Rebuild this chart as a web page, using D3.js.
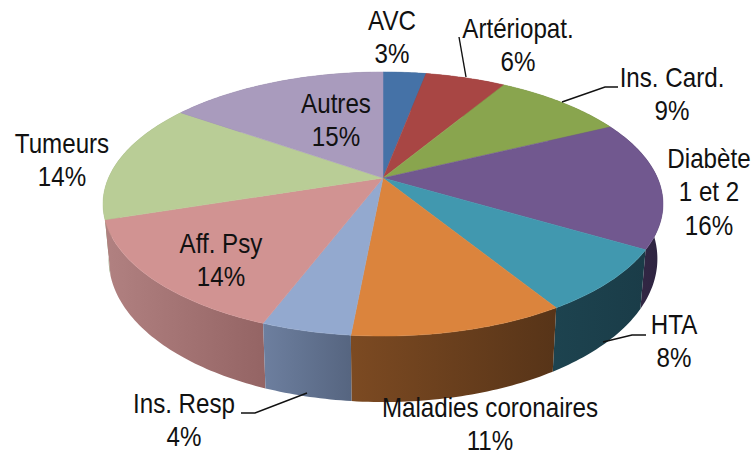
<!DOCTYPE html>
<html>
<head>
<meta charset="utf-8">
<script src="https://cdn.jsdelivr.net/npm/d3@7"></script>
<style>
  html, body { margin: 0; padding: 0; background: #fff; }
  svg { display: block; }
  text { font-family: "Liberation Sans", Arial, sans-serif; font-size: 27px; fill: #111; text-anchor: middle; }
</style>
</head>
<body>
<svg width="753" height="452"></svg>
<script>
var categories = ['AVC', 'Artériopat.', 'Ins. Card.', 'Diabète', 'HTA', 'Maladies coronaires', 'Ins. Resp', 'Aff. Psy', 'Tumeurs', 'Autres'];
var sliceValues = [3, 5.6, 9.2, 15.7, 7.7, 10.3, 4.3, 14.2, 14.7, 15.3];
var shownPercent = ['3%', '6%', '9%', '16%', '8%', '11%', '4%', '14%', '14%', '15%'];
var topColors = ['#4572a7', '#a84644', '#89a54e', '#71588f', '#4198af', '#db843d', '#93a9cf', '#d19392', '#b9cd96', '#a99bbd'];
var wallLight = ['#30507a', '#7a3231', '#647838', '#3a2d4a', '#1d434f', '#7c4a22', '#6d7f9f', '#b18181', '#8f9f74', '#7c7190'];
var wallDark = ['#2a4569', '#6b2b2a', '#566830', '#2d2340', '#1a3c48', '#573418', '#566580', '#946464', '#8a9a70', '#6f6580'];

// label lines and where they sit, same order as categories
var labelLines = [['AVC'], ['Artériopat.'], ['Ins. Card.'], ['Diabète', '1 et 2'], ['HTA'], ['Maladies coronaires'], ['Ins. Resp'], ['Aff. Psy'], ['Tumeurs'], ['Autres']];
var labelX = [392, 518, 672, 709, 674, 490, 184, 221, 62, 336];
var labelY = [30, 38, 87, 168, 334, 416.5, 413, 253, 153, 113];
var lineStep = 33.5;

var leaders = [
  [[459, 37], [466, 77]],
  [[618, 87], [605, 87], [562, 102]],
  [[646, 335], [632, 335], [603, 342]],
  [[241, 413], [255, 413], [307, 393]]
];

var svg = d3.select('svg');
var defs = svg.append('defs');

// disc seen in perspective: centre of the pie is not the centre of the ellipse
var cx = 383, cy = 178, bx = 274.5, by = 126.9, persp = 0.197;
var depthBase = 52, depthFront = 14, bottomShrink = 0.98;

function topPoint(a) {
  var u = Math.sin(a), v = -Math.cos(a), w = 1 - persp * v;
  return [cx + bx * u / w, cy + by * v / w];
}
function bottomPoint(a) {
  var p = topPoint(a), v = -Math.cos(a);
  return [cx + (p[0] - cx) * bottomShrink, p[1] + depthBase + depthFront * v];
}
function arcAngles(d) {
  var n = Math.max(4, Math.ceil((d.endAngle - d.startAngle) * 60));
  return d3.range(n + 1).map(i => d.startAngle + (d.endAngle - d.startAngle) * i / n);
}

var pie = d3.pie().sort(null).startAngle(0).endAngle(2 * Math.PI);
var slices = pie(sliceValues);
var line = d3.line();

slices.forEach((d, i) => {
  var grad = defs.append('linearGradient').attr('id', 'wall' + i);
  grad.append('stop').attr('offset', 0).attr('stop-color', wallLight[i]);
  grad.append('stop').attr('offset', 1).attr('stop-color', wallDark[i]);
});

// walls, back ones first
var wallOrder = slices.map((d, i) => i)
  .sort((a, b) => -Math.cos((slices[a].startAngle + slices[a].endAngle) / 2) + Math.cos((slices[b].startAngle + slices[b].endAngle) / 2));

svg.append('g').selectAll('path')
  .data(wallOrder)
  .enter().append('path')
    .attr('d', i => {
      var angles = arcAngles(slices[i]);
      return line(angles.map(topPoint).concat(angles.slice().reverse().map(bottomPoint))) + 'Z';
    })
    .attr('fill', i => 'url(#wall' + i + ')');

// top face
svg.append('g').selectAll('path')
  .data(slices)
  .enter().append('path')
    .attr('d', d => line([[cx, cy]].concat(arcAngles(d).map(topPoint))) + 'Z')
    .attr('fill', (d, i) => topColors[i])
    .attr('stroke', (d, i) => topColors[i])
    .attr('stroke-width', 0.5);

// leader lines
svg.append('g').selectAll('path')
  .data(leaders)
  .enter().append('path')
    .attr('d', d => line(d))
    .attr('fill', 'none')
    .attr('stroke', '#111')
    .attr('stroke-width', 1.4);

// labels
var labels = svg.append('g').selectAll('g')
  .data(categories)
  .enter().append('g')
    .attr('transform', (d, i) => 'translate(' + labelX[i] + ',' + labelY[i] + ') scale(0.895,1)');

labels.selectAll('text')
  .data((d, i) => labelLines[i].concat(shownPercent[i]))
  .enter().append('text')
    .attr('y', (d, i) => i * lineStep)
    .text(d => d);
</script>
</body>
</html>
